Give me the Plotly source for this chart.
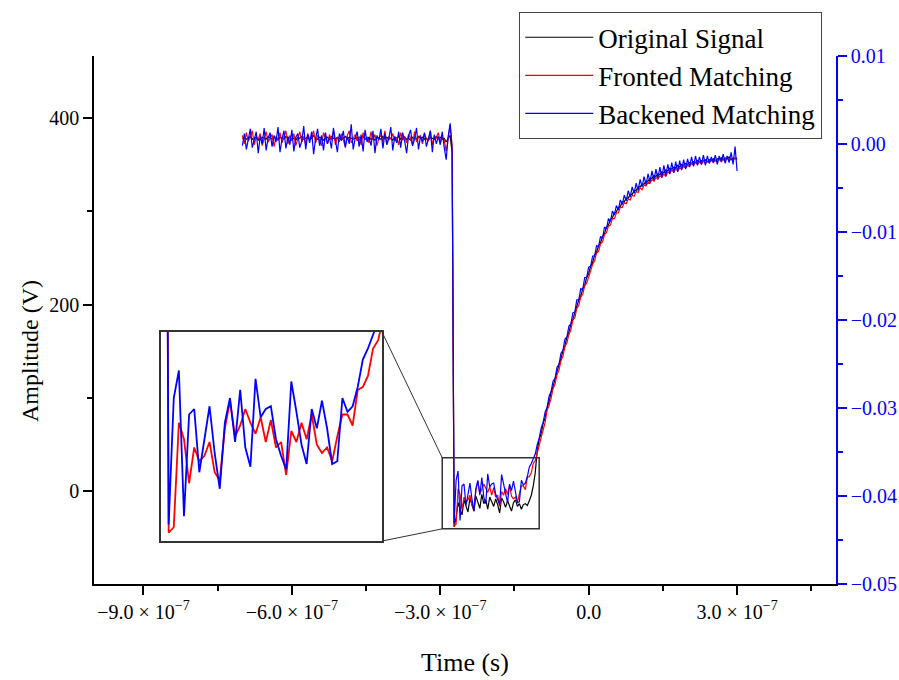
import numpy as np
import plotly.graph_objects as go

# ---------------- data ----------------
T_START = -7.0e-7   # first sample time (s)
T_STEP = 4.0e-9     # oscilloscope sampling interval (s)

# Original signal (V)
black_flat = [378,379,377,378,380,377,378,379,376,378,379,378,377,380,378,377,379,378,376,379,
              378,377,380,378,379,377,378,376,379,378,380,377,378,379,377,378,381,378,377,379,
              378,376,378,379,377,380,378,377,379,378,376,378,380,377,379,378,377,378,379,376,
              378,380,377,378,379,377,378,376,379,378,377,380,378,379,377,378,376,379,378,380,
              377,378,379,377,378,376,379,378,377,380,378,379,377,378,376,379,378,377,380,378,
              379,377,378,374,378,381,362]
black_low = [-38,-28,-12,-19,-25,-9,-17,-22,-7,-15,-21,-5,-11,-18,-3,-13,-9,-19,-6,-12,
             -16,-8,-14,-23,-7,-11,-17,-10,-15,-21,-12,-9,-16,-13,-19,-14,-13,-15,-10,-4,6,20]
black_rise = [44,56,62,73,79,90,96,106,112,121,127,136,142,151,156,165,170,179,184,192,197,205,209,217,221,229,
              233,241,245,253,256,263,266,273,276,283,285,291,293,298,299,304,305,310,310,314,314,318,318,322,322,326,
              326,329,329,332,332,335,335,338,337,340,339,342,341,344,343,346,345,347,346,349,347,350,349,351,350,
              352,351,353,352,354,352,354,353,355,353,355,354,356,354,356,355,357,355,357,356,358,355,357,356,357]

# Fronted matching (V)
red_flat = [381,372,384,375,379,386,371,380,377,383,370,379,385,374,378,382,369,380,376,384,
            373,379,386,372,381,375,383,370,378,385,374,380,371,383,377,379,386,373,381,375,
            370,384,378,372,382,376,385,371,379,374,383,377,369,381,386,373,378,382,375,380,
            371,384,377,379,373,385,376,382,370,378,381,374,386,372,380,377,383,375,379,371,
            384,376,380,373,382,378,370,385,374,379,381,372,383,377,375,386,371,380,378,384,
            373,379,376,364,378,392,370]
red_low = [-37,-35,3,-3,-19,-6,-11,-9,-4,-15,-18,1,11,-2,2,8,3,-1,5,-4,
           4,-6,-4,-16,0,-4,3,-3,6,-5,-8,-6,-11,-2,6,6,2,15,16,20,30,33]
red_rise = [40,49,58,67,74,87,92,100,110,115,125,130,140,145,155,159,168,173,183,186,196,199,208,211,220,223,
            231,236,243,247,255,257,265,267,275,277,284,285,292,292,298,298,304,304,309,308,313,312,317,316,321,320,
            325,323,328,327,331,330,334,332,336,334,338,336,340,337,342,340,344,342,345,343,346,345,348,346,349,
            348,351,349,352,350,353,350,354,351,353,352,355,352,354,353,356,353,355,354,357,354,356,355,357,355]

# Backened matching (V)
blue_flat = [370,383,366,379,388,368,376,385,362,380,372,389,365,378,384,369,381,374,390,363,
             377,386,367,380,371,387,364,379,383,368,375,391,366,382,373,385,361,378,388,370,
             381,365,384,372,379,367,389,374,363,383,376,386,368,380,372,393,366,378,385,369,
             382,364,387,374,379,370,386,362,381,376,388,367,383,371,378,390,365,380,373,385,
             368,384,375,362,381,387,370,377,389,366,380,374,384,369,378,386,363,382,372,380,
             371,385,368,355,380,394,365]
blue_low = [-34,12,22,-31,6,8,-15,-3,9,-8,-21,3,12,-4,15,-6,-13,19,5,8,
            9,-3,-9,-14,18,7,-5,-12,8,1,11,1,-12,-11,12,7,9,16,26,30,35,40]
blue_rise = [50,57,68,74,85,90,102,107,118,121,133,136,148,151,163,165,177,179,191,192,205,205,217,216,229,229,
             240,241,252,252,263,262,273,271,283,281,292,289,300,296,306,301,312,307,317,311,322,315,326,319,330,322,
             334,326,337,328,340,331,343,333,345,335,347,336,349,338,350,340,352,341,353,342,354,344,355,345,356,
             347,358,348,359,349,358,350,360,349,359,351,358,352,360,350,359,353,361,351,359,352,363,350,369,343]

original = black_flat + black_low + black_rise
fronted = red_flat + red_low + red_rise
backened = blue_flat + blue_low + blue_rise

series_names = ["Original Signal", "Fronted Matching", "Backened Matching"]
series_colors = ["#000000", "#ff0000", "#0000ff"]

x_tickvals = [-9e-7, -6e-7, -3e-7, 0.0, 3e-7]
x_ticktext = ["\u22129.0 \u00d7 10<sup>\u22127</sup>", "\u22126.0 \u00d7 10<sup>\u22127</sup>",
              "\u22123.0 \u00d7 10<sup>\u22127</sup>", "0.0", "3.0 \u00d7 10<sup>\u22127</sup>"]
x_minor = [-7.5e-7, -4.5e-7, -1.5e-7, 1.5e-7, 4.5e-7]
y_tickvals = [0, 200, 400]
y_minor = [100, 300]
y2_tickvals = [-0.05, -0.04, -0.03, -0.02, -0.01, 0.0, 0.01]
y2_minor = [-0.045, -0.035, -0.025, -0.015, -0.005, 0.005]

X_RANGE = [-1.0e-6, 5.0e-7]
Y_RANGE = [-99, 466]
Y2_RANGE = [-0.05, 0.01]
BOX_X = [-2.96e-7, -1.0e-7]
BOX_Y = [-40, 36]
INSET_X = [-2.78e-7, -1.05e-7]
INSET_Y = [-40, 36]


def times(n):
    return T_START + T_STEP * np.arange(n)


# ---------------- layout geometry ----------------
W, H = 899, 680
PL, PR, PT, PB = 94, 836, 56, 584


def pxx(px):
    return (px - PL) / (PR - PL)


def pxy(py):
    return (PB - py) / (PB - PT)


inset_dom_x = [pxx(161), pxx(382)]
inset_dom_y = [pxy(541), pxy(332)]


def dx(v):
    return (v - X_RANGE[0]) / (X_RANGE[1] - X_RANGE[0])


def dy(v):
    return (v - Y_RANGE[0]) / (Y_RANGE[1] - Y_RANGE[0])


FONT = "Liberation Serif"

fig = go.Figure()
for name, ys, col in zip(series_names, [original, fronted, backened], series_colors):
    fig.add_trace(go.Scatter(x=times(len(ys)), y=ys, mode="lines", name=name,
                             legendgroup=name, line=dict(color=col, width=1.2),
                             xaxis="x", yaxis="y"))
# right axis carrier
fig.add_trace(go.Scatter(x=[None], y=[None], xaxis="x", yaxis="y2", showlegend=False,
                         hoverinfo="skip"))
# inset traces
for ys, col in [(fronted, series_colors[1]), (backened, series_colors[2])]:
    fig.add_trace(go.Scatter(x=times(len(ys)), y=ys, mode="lines", showlegend=False,
                             line=dict(color=col, width=1.8), xaxis="x2", yaxis="y3"))

axis_common = dict(showgrid=False, zeroline=False, showline=True, linewidth=1.5,
                   ticks="outside", ticklen=9, tickwidth=1.5, automargin=False)

fig.update_layout(
    width=W, height=H,
    margin=dict(l=PL, r=W - PR, t=PT, b=H - PB, autoexpand=False),
    paper_bgcolor="white", plot_bgcolor="white",
    font=dict(family=FONT, size=20, color="black"),
    showlegend=True,
    legend=dict(x=pxx(519), y=pxy(12), xanchor="left", yanchor="top",
                bgcolor="white", bordercolor="#444444", borderwidth=1.2,
                font=dict(family=FONT, size=27, color="black"),
                itemwidth=68, tracegroupgap=0),
    xaxis=dict(range=X_RANGE, domain=[0, 1], anchor="y", linecolor="black", tickcolor="black",
               tickmode="array", tickvals=x_tickvals, ticktext=x_ticktext,
               minor=dict(tickmode="array", tickvals=x_minor, ticks="outside", ticklen=5,
                          tickwidth=1.5, tickcolor="black", showgrid=False),
               **axis_common),
    yaxis=dict(range=Y_RANGE, domain=[0, 1], anchor="x", linecolor="black", tickcolor="black",
               tickmode="array", tickvals=y_tickvals,
               minor=dict(tickmode="array", tickvals=y_minor, ticks="outside", ticklen=5,
                          tickwidth=1.5, tickcolor="black", showgrid=False),
               **axis_common),
    yaxis2=dict(range=Y2_RANGE, overlaying="y", side="right", anchor="x",
                linecolor="#0000ff", tickcolor="#0000ff", tickfont=dict(color="#0000ff", size=20),
                tickmode="array", tickvals=y2_tickvals, tickformat=".2f",
                minor=dict(tickmode="array", tickvals=y2_minor, ticks="outside", ticklen=5,
                           tickwidth=1.5, tickcolor="#0000ff", showgrid=False),
                **axis_common),
    xaxis2=dict(range=INSET_X, domain=inset_dom_x, anchor="y3", showgrid=False, zeroline=False,
                showline=True, mirror=True, linecolor="#333333", linewidth=1.5,
                ticks="", showticklabels=False),
    yaxis3=dict(range=INSET_Y, domain=inset_dom_y, anchor="x2", showgrid=False, zeroline=False,
                showline=True, mirror=True, linecolor="#333333", linewidth=1.5,
                ticks="", showticklabels=False),
)

# zoom box and connectors
fig.add_shape(type="rect", xref="x", yref="y", x0=BOX_X[0], x1=BOX_X[1], y0=BOX_Y[0], y1=BOX_Y[1],
              line=dict(color="#333333", width=1.5))
fig.add_shape(type="line", xref="paper", yref="paper",
              x0=inset_dom_x[1], y0=inset_dom_y[1], x1=dx(BOX_X[0]), y1=dy(BOX_Y[1]),
              line=dict(color="#333333", width=1))
fig.add_shape(type="line", xref="paper", yref="paper",
              x0=inset_dom_x[1], y0=inset_dom_y[0], x1=dx(BOX_X[0]), y1=dy(BOX_Y[0]),
              line=dict(color="#333333", width=1))

# axis titles
fig.add_annotation(text="Time (s)", xref="paper", yref="paper", x=pxx(465), y=pxy(662),
                   xanchor="center", yanchor="middle", showarrow=False,
                   font=dict(family=FONT, size=26, color="black"))
fig.add_annotation(text="Amplitude (V)", xref="paper", yref="paper", x=pxx(30), y=pxy(351),
                   xanchor="center", yanchor="middle", showarrow=False, textangle=-90,
                   font=dict(family=FONT, size=24, color="black"))

fig.write_html("out.html")
